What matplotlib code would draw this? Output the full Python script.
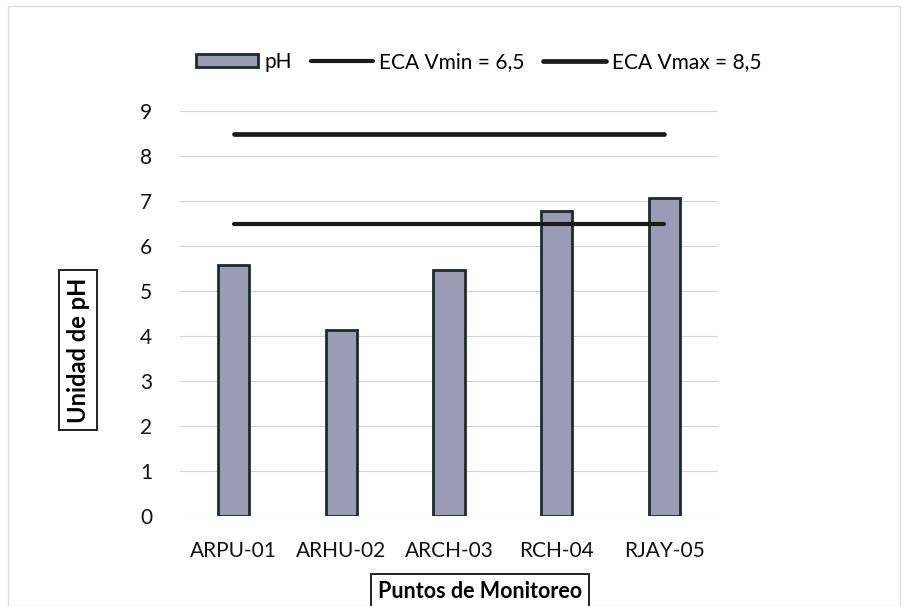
import matplotlib.pyplot as plt
from matplotlib.patches import Rectangle

puntos = ['ARPU-01', 'ARHU-02', 'ARCH-03', 'RCH-04', 'RJAY-05']
ph = [5.58, 4.13, 5.47, 6.78, 7.07]
eca_min = 6.5
eca_max = 8.5

plt.rcParams['font.family'] = ['Lato', 'DejaVu Sans']

fig = plt.figure(figsize=(9.09, 6.06), dpi=100)
ax = fig.add_axes([0.198, 0.1485, 0.592, 0.6683])

x = list(range(len(puntos)))
bars = ax.bar(x, ph, width=0.29, color='#9a9cb6', edgecolor='#1e2a2a', linewidth=2.0,
              label='pH', zorder=2)
l_min, = ax.plot([x[0], x[-1]], [eca_min] * 2, color='#1a1a1a', linewidth=3.0,
                 solid_capstyle='round', label='ECA Vmin = 6,5', zorder=3)
l_max, = ax.plot([x[0], x[-1]], [eca_max] * 2, color='#1a1a1a', linewidth=3.4,
                 solid_capstyle='round', label='ECA Vmax = 8,5', zorder=3)

ax.set_xlim(-0.5, len(puntos) - 0.5)
ax.set_ylim(0, 9)
ax.set_yticks(range(10))
ax.set_xticks(x)
ax.set_xticklabels(puntos)
ax.tick_params(axis='both', length=0, labelsize=15, colors='#111111')
ax.tick_params(axis='x', pad=18)
ax.tick_params(axis='y', pad=20)
ax.grid(axis='y', color='#d4d4dc', linewidth=0.8, zorder=0)
ax.set_axisbelow(True)
for s in ax.spines.values():
    s.set_visible(False)

ax.legend(handles=[bars, l_min, l_max], loc='center', bbox_to_anchor=(0.555, 1.121),
          ncol=3, frameon=False, fontsize=15, handlelength=3.0, handleheight=0.6,
          handletextpad=0.3, columnspacing=0.9)

# boxed axis titles
box = dict(boxstyle='square,pad=0.3', facecolor='white', edgecolor='#222222', linewidth=1.4)
fig.text(78 / 909, 1 - 350 / 606, 'Unidad de pH', rotation=90, ha='center', va='center',
         fontsize=17, fontweight='bold', bbox=box)
fig.text(480 / 909, 1 - 591 / 606, 'Puntos de Monitoreo', ha='center', va='center',
         fontsize=15.5, fontweight='bold', bbox=box)

# chart area border
fig.patches.append(Rectangle((8 / 909, 0), 892 / 909, 1 - 6 / 606, transform=fig.transFigure,
                             fill=False, edgecolor='#dddddd', linewidth=1.0))

fig.savefig('out.png', dpi=100)
